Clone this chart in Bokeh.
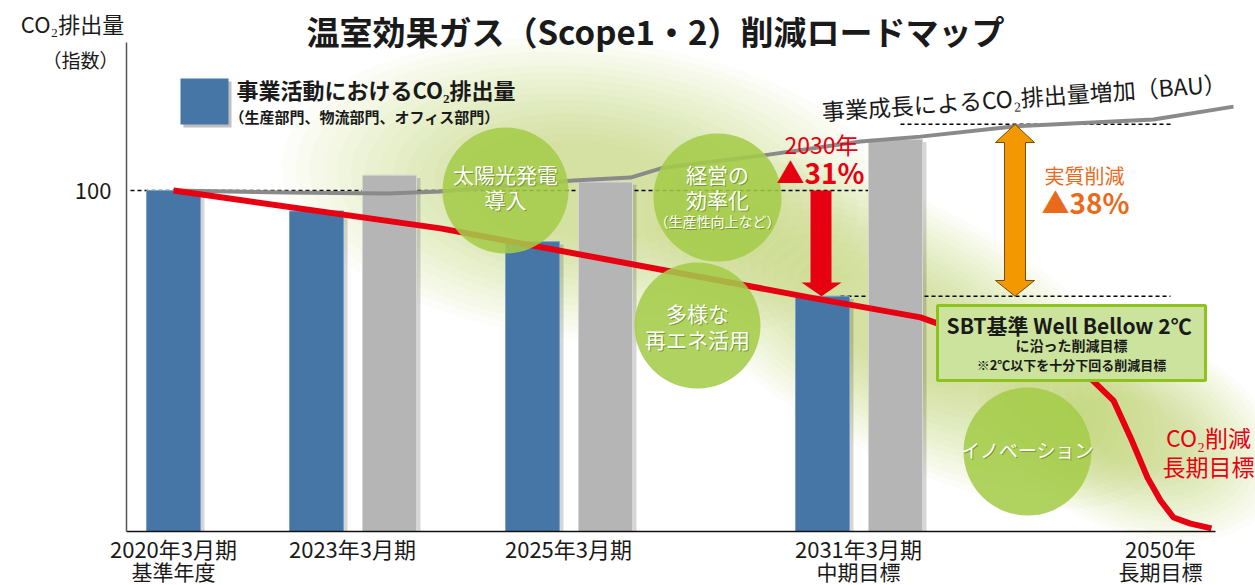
from bokeh.plotting import figure
from bokeh.models import Range1d, FixedTicker
from bokeh.core.properties import value
from bokeh.embed import file_html
from bokeh.resources import INLINE

FONT = "Noto Sans CJK JP"

# ---------------- data (index, 2020年3月期 = 100) ----------------
periods = ["2020年3月期", "2023年3月期", "2025年3月期", "2031年3月期", "2050年"]
period_notes = ["基準年度", "", "", "中期目標", "長期目標"]
actual_index = [100, 94, 85, 69, None]       # 事業活動におけるCO2排出量 (blue bars)
bau_index = [None, 104.5, 102.5, 115, None]   # BAU (gray bars)
bau_curve_pos = [173, 287, 387, 440, 573, 630, 663, 763, 860, 920, 1013, 1153, 1233]
bau_curve_index = [100.0, 99.4, 99.1, 99.7, 102.9, 103.8, 106.7, 110.3, 114.4, 115.8, 118.8, 120.8, 124.6]
target_pos = [173, 440, 810, 920, 1090, 1113, 1130, 1147, 1160, 1173, 1190, 1211]
target_index = [100, 88.9, 68.6, 62.8, 44.9, 38.4, 27.6, 15.8, 9.1, 4.1, 2.3, 0.9]
bau_2031_level = 119.4
y_ticks = [100]

# ---------------- layout ----------------
W, H = 1255, 585
AXIS_X = 126            # page x of the value axis (x data == page px)
Y_BASE = 531            # page y of index 0
PPU = 3.41              # page px per index unit
group_pos = [173, 352, 568, 858, 1160]
BLUE_OFF, GRAY_OFF = -36, 37
BAR_W = 54

BLUE = "#4576a6"
GRAY = "#b4b5b4"
RED = "#e60012"
ORANGE_T = "#ea6a1c"
GREEN = "#a4cb48"
GLOW = "#9cc93c"


def yv(py):
    return (Y_BASE - py) / PPU


p = figure(width=W, height=H, title=None,
           x_range=Range1d(0, W), y_range=Range1d(yv(H), yv(0)),
           output_backend="svg", toolbar_location=None,
           min_border_left=0, min_border_right=0, min_border_top=0, min_border_bottom=0)
p.grid.visible = False
p.outline_line_color = None
p.background_fill_color = "white"

# axes (fixed inside the full-canvas frame)
xa = p.xaxis[0]
xa.fixed_location = 0
xa.ticker = FixedTicker(ticks=group_pos)
xa.major_label_overrides = {gp: lab for gp, lab in zip(group_pos, periods)}
xa.bounds = (AXIS_X, 1215)
xa.axis_line_color = "#111111"
xa.axis_line_width = 1.3
xa.major_tick_line_color = None
xa.major_tick_out = 0
xa.major_tick_in = 0
xa.minor_tick_line_color = None
xa.major_label_text_font = FONT
xa.major_label_text_font_size = "22px"
xa.major_label_text_color = "#1a1a1a"
xa.major_label_standoff = 0

ya = p.yaxis[0]
ya.fixed_location = AXIS_X
ya.ticker = FixedTicker(ticks=y_ticks)
ya.bounds = (0, yv(42))
ya.axis_line_color = "#555555"
ya.axis_line_width = 1.5
ya.major_tick_line_color = None
ya.minor_tick_line_color = None
ya.major_label_text_font = FONT
ya.major_label_text_font_size = "22px"
ya.major_label_text_color = "#1a1a1a"
ya.major_label_standoff = 9

# soft green glow
blobs = [(590, 190, 620, 300, -0.1), (905, 330, 580, 250, -0.5), (1130, 430, 320, 200, -0.4)]
for cx, cy, w, h, ang in blobs:
    n = 16
    p.ellipse(x=[cx] * n, y=[yv(cy)] * n, width=[w * (1 - 0.045 * k) for k in range(n)],
              height=[h * (1 - 0.045 * k) for k in range(n)], angle=ang,
              width_units="screen", height_units="screen",
              fill_color=GLOW, fill_alpha=0.035, line_color=None)

# dashed reference lines
p.segment(x0=[130, 900, 840], y0=[100, bau_2031_level, actual_index[3]],
          x1=[868, 1170, 1170], y1=[100, bau_2031_level, actual_index[3]],
          line_color="black", line_width=1.5, line_dash="4 3")

# bars
bx, bt, gx, gt = [], [], [], []
for gp, a, b in zip(group_pos, actual_index, bau_index):
    if a is not None:
        bx.append(gp + (BLUE_OFF if b is not None else 0))
        bt.append(a)
    if b is not None:
        gx.append(gp + GRAY_OFF)
        gt.append(b)
p.vbar(x=[v + 4 for v in bx + gx], top=[t - 0.8 for t in bt + gt], bottom=0, width=BAR_W,
       fill_color="black", fill_alpha=0.16, line_color=None)
p.vbar(x=bx, top=bt, bottom=0, width=BAR_W, fill_color=BLUE, line_color="#7aa0c8", line_width=1)
p.vbar(x=gx, top=gt, bottom=0, width=BAR_W, fill_color=GRAY, line_color="#d6d6d6", line_width=1)

# BAU curve and target path
p.line(bau_curve_pos, bau_curve_index, line_color="#8a8a8a", line_width=4)
p.line(target_pos, target_index, line_color=RED, line_width=6, line_join="round")

# measure circles
circ = [(505, 190, 126), (717, 197, 128), (697, 325, 126), (1027, 451, 128)]
p.scatter(x=[c[0] for c in circ], y=[yv(c[1]) for c in circ], size=[c[2] for c in circ],
          fill_color=GREEN, fill_alpha=0.87, line_color=None)

# red arrow (100 -> 2031 target)
t31 = actual_index[3]
p.patch(x=[810, 831, 831, 841, 821, 801, 810],
        y=[100, 100, yv(282), yv(282), t31, yv(282), yv(282)],
        fill_color=RED, line_color=None)

# orange double arrow (BAU -> target)
p.patch(x=[1014.5, 1034, 1025, 1025, 1034, 1014.5, 995, 1004, 1004, 995],
        y=[bau_2031_level, yv(142), yv(142), yv(280), yv(280), t31, yv(280), yv(280), yv(142), yv(142)],
        fill_color="#f39800", line_color="#7a4d00", line_width=1)

# SBT box
p.quad(left=937, right=1205, top=yv(305), bottom=yv(380), fill_color="#cbe39c",
       line_color="#8ec31f", line_width=3)

# legend square
p.quad(left=183, right=231, top=yv(81), bottom=yv(127), fill_color="black", fill_alpha=0.25, line_color=None)
p.quad(left=180, right=228, top=yv(78), bottom=yv(124), fill_color=BLUE, line_color=None)


def txt(x, ypx, s, size, color="#1a1a1a", bold=False, align="center", angle=0.0, shadow=False):
    if shadow:
        p.text(x=[x + 1], y=[yv(ypx + 1)], text=[s], text_font=value(FONT), text_font_size=f"{size}px",
               text_color="#4d6b12", text_alpha=0.55, text_font_style="bold" if bold else "normal",
               text_align=align, text_baseline="middle", angle=angle)
    p.text(x=[x], y=[yv(ypx)], text=[s], text_font=value(FONT), text_font_size=f"{size}px",
           text_color=color, text_font_style="bold" if bold else "normal",
           text_align=align, text_baseline="middle", angle=angle)


# second line of the period labels
for gp, note in zip(group_pos, period_notes):
    if note:
        txt(gp, 570, note, 21)

# y-axis caption
txt(72, 22, "CO₂排出量", 22)
txt(80, 59, "（指数）", 19)
# title
txt(655, 30, "温室効果ガス（Scope1・2）削減ロードマップ", 33, bold=True)
# legend texts
txt(236, 88, "事業活動におけるCO₂排出量", 22, bold=True, align="left")
txt(229, 116, "（生産部門、物流部門、オフィス部門）", 15, bold=True, align="left")
# BAU label
txt(1024, 96, "事業成長によるCO₂排出量増加（BAU）", 23, angle=0.07)
# circle texts
txt(505, 173, "太陽光発電", 21, color="white", shadow=True)
txt(505, 198, "導入", 21, color="white", shadow=True)
txt(717, 173, "経営の", 21, color="white", shadow=True)
txt(717, 198, "効率化", 21, color="white", shadow=True)
txt(717, 220, "（生産性向上など）", 14, color="white", shadow=True)
txt(697, 312, "多様な", 21, color="white", shadow=True)
txt(697, 338, "再エネ活用", 21, color="white", shadow=True)
txt(1027, 449, "イノベーション", 19, color="white", shadow=True)
# reduction labels
txt(821, 143, "2030年", 23, color=RED)
txt(820, 171, "▲31%", 28, color=RED, bold=True)
txt(1084, 175, "実質削減", 20, color=ORANGE_T)
txt(1085, 201, "▲38%", 28, color=ORANGE_T, bold=True)
# SBT box texts
txt(1071, 324, "SBT基準  Well Bellow 2℃", 21, bold=True)
txt(1071, 344, "に沿った削減目標", 14, bold=True)
txt(1071, 364, "※2℃以下を十分下回る削減目標", 13, bold=True)
# long-term goal
txt(1208, 436, "CO₂削減", 23, color=RED)
txt(1208, 465, "長期目標", 23, color=RED)

open("out.html", "w").write(file_html(p, INLINE))
